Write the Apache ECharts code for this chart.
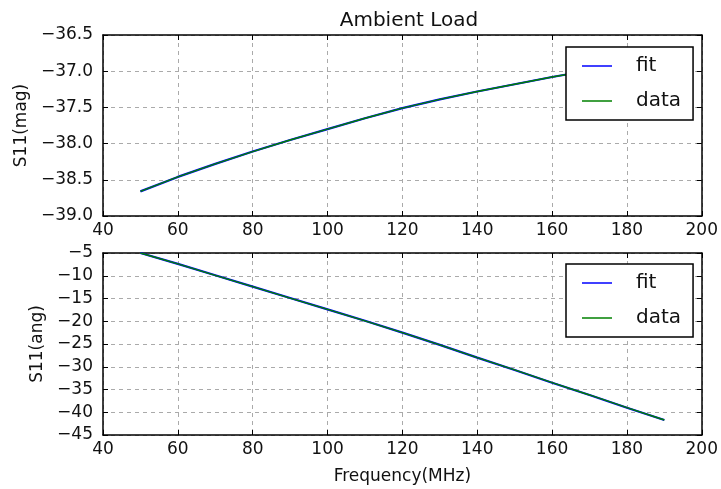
<!DOCTYPE html>
<html>
<head>
<meta charset="utf-8">
<script src="https://cdn.jsdelivr.net/npm/echarts@6/dist/echarts.min.js"></script>
<style>
  html, body { margin: 0; padding: 0; background: #fff; }
  #chart { width: 721px; height: 489px; }
</style>
</head>
<body>
<div id="chart"></div>
<script>
const freq = [50, 60, 70, 80, 90, 100, 110, 120, 130, 140, 150, 160, 170, 180, 190];
const s11Mag = [-38.66, -38.46, -38.28, -38.11, -37.95, -37.80, -37.65, -37.51, -37.39, -37.28, -37.18, -37.08, -36.99, -36.90, -36.82];
const s11Ang = [-5.0, -7.4, -9.9, -12.4, -14.9, -17.4, -19.9, -22.5, -25.2, -28.0, -30.7, -33.5, -36.2, -39.0, -41.7];
const seriesNames = ['fit', 'data'];
const seriesColors = ['#0000ff', '#008000'];

const font = 'DejaVu Sans';
const minus = (v) => String(v).replace('-', '\u2212');

const pairs = (ys) => freq.map((f, i) => [f, ys[i]]);

const xAxisFor = (grid, withLabels) => ([
  {
    type: 'value', gridIndex: grid, position: 'bottom',
    min: 40, max: 200, interval: 20,
    name: withLabels ? 'Frequency(MHz)' : '',
    nameLocation: 'middle', nameGap: 33,
    nameTextStyle: { color: '#111', fontSize: 17, fontFamily: font },
    axisLine: { show: true, onZero: false, lineStyle: { color: '#000', width: 1.5 } },
    axisTick: { show: true, inside: true, length: 5, lineStyle: { color: '#000' } },
    axisLabel: { color: '#111', fontSize: 17, fontFamily: font, margin: 6 },
    splitLine: { show: true, lineStyle: { color: '#aaaaaa', type: [4, 4], width: 1 } },
  },
  {
    type: 'value', gridIndex: grid, position: 'top',
    min: 40, max: 200, interval: 20,
    axisLine: { show: true, onZero: false, lineStyle: { color: '#000', width: 1.5 } },
    axisTick: { show: true, inside: true, length: 5, lineStyle: { color: '#000' } },
    axisLabel: { show: false },
    splitLine: { show: false },
  },
]);

const yAxisFor = (grid, name, min, max, interval, digits, gap) => ([
  {
    type: 'value', gridIndex: grid, position: 'left',
    min: min, max: max, interval: interval,
    name: name, nameLocation: 'middle', nameGap: gap,
    nameTextStyle: { color: '#111', fontSize: 17, fontFamily: font },
    axisLine: { show: true, onZero: false, lineStyle: { color: '#000', width: 1.5 } },
    axisTick: { show: true, inside: true, length: 5, lineStyle: { color: '#000' } },
    axisLabel: {
      color: '#111', fontSize: 17, fontFamily: font, margin: 10,
      formatter: (v) => minus(v.toFixed(digits)),
    },
    splitLine: { show: true, lineStyle: { color: '#aaaaaa', type: [4, 4], width: 1 } },
  },
  {
    type: 'value', gridIndex: grid, position: 'right',
    min: min, max: max, interval: interval,
    axisLine: { show: true, onZero: false, lineStyle: { color: '#000', width: 1.5 } },
    axisTick: { show: true, inside: true, length: 5, lineStyle: { color: '#000' } },
    axisLabel: { show: false },
    splitLine: { show: false },
  },
]);

const legendFor = (top) => ({
  orient: 'vertical',
  left: 566, top: top,
  data: seriesNames,
  icon: 'rect',
  itemWidth: 30, itemHeight: 1.5,
  itemGap: 15,
  padding: [9, 12, 9, 16],
  borderColor: '#000', borderWidth: 1.5,
  backgroundColor: '#fff',
  textStyle: { color: '#111', fontSize: 20, fontFamily: font, padding: [0, 0, 0, 19] },
});

const lineSeries = (name, color, width, xIdx, yIdx, ys) => ({
  name: name, type: 'line',
  xAxisIndex: xIdx, yAxisIndex: yIdx,
  data: pairs(ys),
  showSymbol: false, symbol: 'none',
  lineStyle: { color: color, width: width },
  itemStyle: { color: color },
  animation: false,
});

const chart = echarts.init(document.getElementById('chart'), null, { renderer: 'canvas' });

chart.setOption({
  backgroundColor: '#fff',
  animation: false,
  title: {
    text: 'Ambient Load',
    left: 404, top: 6, textAlign: 'center',
    textStyle: { color: '#111', fontSize: 20, fontWeight: 'normal', fontFamily: font },
  },
  legend: [legendFor(47), legendFor(264)],
  grid: [
    { left: 103, top: 35, width: 601, height: 181 },
    { left: 103, top: 253, width: 601, height: 182 },
  ],
  xAxis: [...xAxisFor(0, false), ...xAxisFor(1, true)],
  yAxis: [
    ...yAxisFor(0, 'S11(mag)', -39, -36.5, 0.5, 1, 73),
    ...yAxisFor(1, 'S11(ang)', -45, -5, 5, 0, 55),
  ],
  series: [
    lineSeries(seriesNames[0], seriesColors[0], 2.2, 0, 0, s11Mag),
    lineSeries(seriesNames[1], seriesColors[1], 1.4, 0, 0, s11Mag),
    lineSeries(seriesNames[0], seriesColors[0], 2.2, 2, 2, s11Ang),
    lineSeries(seriesNames[1], seriesColors[1], 1.4, 2, 2, s11Ang),
  ],
});
</script>
</body>
</html>
